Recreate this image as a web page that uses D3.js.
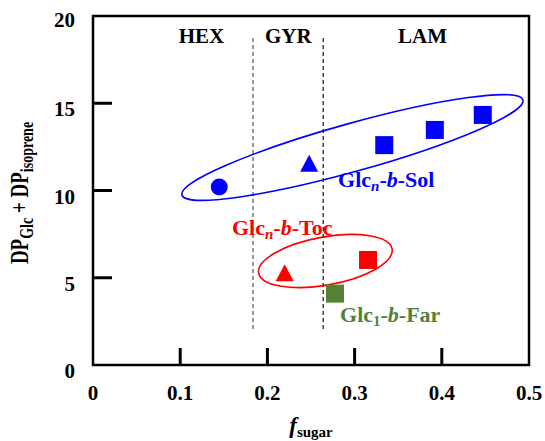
<!DOCTYPE html>
<html>
<head>
<meta charset="utf-8">
<script src="https://cdn.jsdelivr.net/npm/d3@7"></script>
<style>
  body { margin: 0; background: #fff; }
  text { font-family: "Liberation Serif", "DejaVu Serif", serif; font-weight: bold; }
</style>
</head>
<body>
<svg id="chart"></svg>
<script>
var width = 545,
    height = 441;

// sugar fraction / DP values
var solF = [0.1448, 0.2479, 0.334, 0.392, 0.447],
    solDP = [10.2, 11.4, 12.6, 13.47, 14.33],
    solShape = ["circle", "triangle", "square", "square", "square"];
var tocF = [0.2198, 0.3154],
    tocDP = [5.12, 6.02],
    tocShape = ["triangle", "square"];
var farF = [0.2775],
    farDP = [4.09],
    farShape = ["square"];

// phase boundaries and labels
var phaseBounds = [0.1835, 0.264],
    phaseNames = ["HEX", "GYR", "LAM"],
    phaseLabelF = [0.1244, 0.224, 0.378];

// ellipse tips [f, DP]
var solEllipse = [[0.102, 9.74], [0.493, 15.19]],
    tocEllipse = [[0.190, 5.27], [0.343, 6.65]];

var xTicks = [0, 0.1, 0.2, 0.3, 0.4, 0.5],
    yTicks = [0, 5, 10, 15, 20];

var blue = "#0000ff", red = "#ff0000", green = "#548235";

var x = d3.scaleLinear().domain([0, 0.5]).range([93, 529]);
var y = d3.scaleLinear().domain([0, 20]).range([365, 16]);

var svg = d3.select("#chart").attr("width", width).attr("height", height);

// dashed phase boundaries
svg.append("g").selectAll("line")
  .data(phaseBounds)
  .enter().append("line")
  .attr("x1", d => x(d)).attr("x2", d => x(d))
  .attr("y1", y(18.74)).attr("y2", y(2.0))
  .attr("stroke", (d, i) => i === 0 ? "#555" : "#111")
  .attr("stroke-width", 1.2)
  .attr("stroke-dasharray", "4,3");

svg.append("g").selectAll("text")
  .data(phaseNames)
  .enter().append("text")
  .attr("x", (d, i) => x(phaseLabelF[i]))
  .attr("y", y(18.45))
  .attr("text-anchor", "middle")
  .attr("font-size", 21)
  .text(d => d);

// frame and ticks
svg.append("rect")
  .attr("x", x(0)).attr("y", y(20))
  .attr("width", x(0.5) - x(0)).attr("height", y(0) - y(20))
  .attr("fill", "none").attr("stroke", "#000").attr("stroke-width", 2.5);

svg.append("g").selectAll("line")
  .data(xTicks.slice(1, -1))
  .enter().append("line")
  .attr("x1", d => x(d)).attr("x2", d => x(d))
  .attr("y1", y(0)).attr("y2", y(0) - 17)
  .attr("stroke", "#000").attr("stroke-width", 3);

svg.append("g").selectAll("line")
  .data(yTicks.slice(1, -1))
  .enter().append("line")
  .attr("x1", x(0)).attr("x2", x(0) + 19)
  .attr("y1", d => y(d)).attr("y2", d => y(d))
  .attr("stroke", "#000").attr("stroke-width", 3);

svg.append("g").selectAll("text")
  .data(xTicks)
  .enter().append("text")
  .attr("x", d => x(d))
  .attr("y", 400)
  .attr("text-anchor", "middle")
  .attr("font-size", 21)
  .text(d => d === 0 ? "0" : d3.format(".1f")(d));

svg.append("g").selectAll("text")
  .data(yTicks)
  .enter().append("text")
  .attr("x", 75)
  .attr("y", d => y(d) + (d === 20 ? 11 : 13))
  .attr("text-anchor", "end")
  .attr("font-size", 21)
  .text(d => d);

// axis titles
var yt = svg.append("text")
  .attr("transform", "translate(28,193) scale(1.35,1) rotate(-90)")
  .attr("text-anchor", "middle")
  .attr("font-size", 19);
yt.append("tspan").text("DP");
yt.append("tspan").attr("font-size", 14).attr("dy", 4).text("Glc");
yt.append("tspan").attr("dy", -4).text(" + DP");
yt.append("tspan").attr("font-size", 14).attr("dy", 4).text("isoprene");

var xt = svg.append("text")
  .attr("x", x(0.25)).attr("y", 433)
  .attr("text-anchor", "middle")
  .attr("font-size", 23);
xt.append("tspan").attr("font-style", "italic").text("f");
xt.append("tspan").attr("font-size", 15).attr("dy", 4).text("sugar");

// ellipses
function drawEllipse(tips, color) {
  var x1 = x(tips[0][0]), y1 = y(tips[0][1]),
      x2 = x(tips[1][0]), y2 = y(tips[1][1]);
  var cx = (x1 + x2) / 2, cy = (y1 + y2) / 2,
      rx = Math.hypot(x2 - x1, y2 - y1) / 2,
      ang = Math.atan2(y2 - y1, x2 - x1) * 180 / Math.PI;
  svg.append("ellipse")
    .attr("transform", "translate(" + cx + "," + cy + ") rotate(" + ang + ")")
    .attr("rx", rx).attr("ry", 24)
    .attr("fill", "none").attr("stroke", color).attr("stroke-width", 1.6);
}
drawEllipse(solEllipse, blue);
drawEllipse(tocEllipse, red);

// markers
var tri = "M0,-11.3L9,5.7L-9,5.7Z";
function drawSeries(fs, dps, shapes, color) {
  var g = svg.append("g");
  g.selectAll("path")
    .data(fs)
    .enter().append("path")
    .attr("transform", (d, i) => "translate(" + x(d) + "," + y(dps[i]) + ")")
    .attr("d", (d, i) => {
      if (shapes[i] === "triangle") return tri;
      if (shapes[i] === "circle") return d3.symbol(d3.symbolCircle, 227)();
      return d3.symbol(d3.symbolSquare, 324)();
    })
    .attr("fill", color);
}
drawSeries(solF, solDP, solShape, blue);
drawSeries(tocF, tocDP, tocShape, red);
drawSeries(farF, farDP, farShape, green);

// series labels
function seriesLabel(f, dp, sub, name, color) {
  var t = svg.append("text")
    .attr("x", x(f)).attr("y", y(dp))
    .attr("font-size", 22)
    .attr("fill", color);
  t.append("tspan").text("Glc");
  t.append("tspan").attr("font-size", 15).attr("dy", 4)
    .attr("font-style", sub === "n" ? "italic" : "normal").text(sub);
  t.append("tspan").attr("dy", -4).text("-");
  t.append("tspan").attr("font-style", "italic").text("b");
  t.append("tspan").text("-" + name);
}
seriesLabel(0.281, 10.2, "n", "Sol", blue);
seriesLabel(0.1594, 7.45, "n", "Toc", red);
seriesLabel(0.2833, 2.46, "1", "Far", green);
</script>
</body>
</html>
